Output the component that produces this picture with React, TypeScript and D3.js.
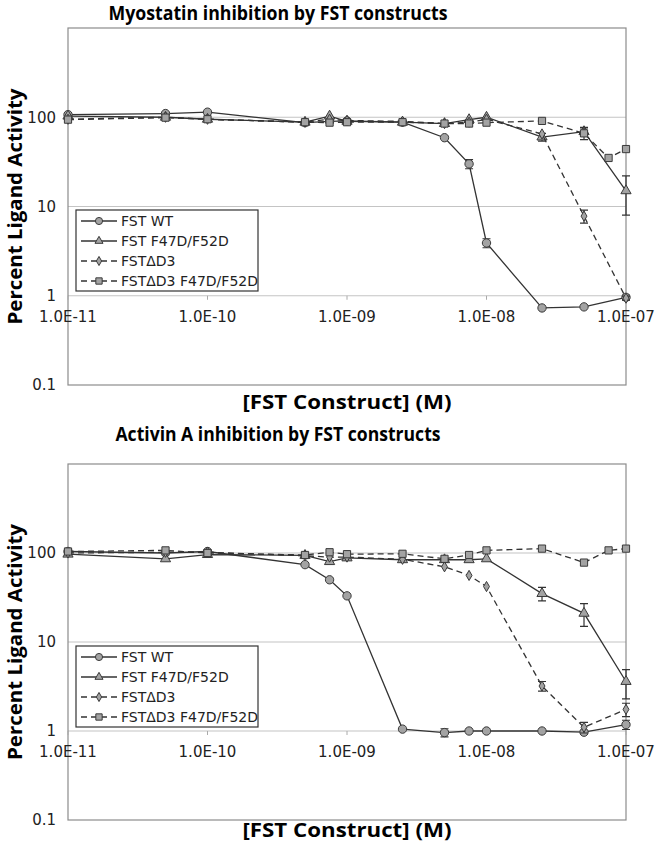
import React, { useRef, useEffect } from "react";
import * as d3 from "d3";

// concentrations (M) used on both plates
const concentrations = [
  1e-11, 5e-11, 1e-10, 5e-10, 7.5e-10, 1e-9, 2.5e-9, 5e-9, 7.5e-9, 1e-8,
  2.5e-8, 5e-8, 7.5e-8, 1e-7,
];
const xTicks = [1e-11, 1e-10, 1e-9, 1e-8, 1e-7];
const xTickLabels = ["1.0E-11", "1.0E-10", "1.0E-09", "1.0E-08", "1.0E-07"];
const yTicks = [0.1, 1, 10, 100];
const yTickLabels = ["0.1", "1", "10", "100"];
const gridValues = [1, 10, 100];

const seriesNames = ["FST WT", "FST F47D/F52D", "FST\u0394D3", "FST\u0394D3 F47D/F52D"];
const seriesShapes = ["circle", "triangle", "diamond", "square"];
const seriesDashed = [false, false, true, true];

// Myostatin panel
const myoWT = [107, 110, 114, 87, 90, 91, 88, 59, 30, 3.9, 0.73, 0.75, null, 0.96];
const myoWTErr = [0, 0, 0, 0, 0, 0, 0, 0, 3.5, 0.45, 0, 0, 0, 0.06];
const myoF47 = [103, 100, 95, 88, 103, 90, 88, 85, 94, 100, 60, 69, null, 15];
const myoF47Err = [0, 0, 0, 0, 0, 0, 0, 0, 0, 0, 6, 8, 0, 7];
const myoDD3 = [95, 100, 95, 88, 95, 92, 90, 85, 88, 95, 65, 7.8, null, 0.94];
const myoDD3Err = [0, 0, 0, 0, 0, 0, 0, 0, 0, 0, 0, 1.3, 0, 0.05];
const myoDD3F47 = [94, 99, 95, 88, 87, 88, 88, 85, 85, 87, 91, 66, 35, 44];
const myoDD3F47Err = [0, 0, 0, 0, 0, 0, 0, 0, 0, 0, 0, 10, 0, 0];

// Activin A panel
const actWT = [104, 100, 104, 74, 50, 33, 1.05, 0.96, 1.0, 1.0, 1.0, 0.97, null, 1.18];
const actWTErr = [0, 0, 0, 0, 0, 0, 0, 0.1, 0, 0, 0, 0.05, 0, 0.14];
const actF47 = [97, 86, 96, 94, 80, 88, 84, 84, 84, 86, 35, 21, null, 3.6];
const actF47Err = [0, 0, 0, 0, 0, 0, 0, 0, 0, 0, 6, 6, 0, 1.3];
const actDD3 = [100, 102, 102, 93, 90, 90, 85, 70, 56, 42, 3.2, 1.1, null, 1.75];
const actDD3Err = [0, 0, 0, 0, 0, 0, 0, 0, 0, 0, 0.4, 0.15, 0, 0.3];
const actDD3F47 = [104, 107, 100, 95, 102, 97, 98, 86, 95, 107, 112, 78, 107, 112];
const actDD3F47Err = [0, 0, 0, 0, 0, 0, 0, 0, 0, 0, 0, 0, 0, 0];

const panels = [
  {
    title: "Myostatin inhibition by FST constructs",
    titleWidth: 339,
    series: [myoWT, myoF47, myoDD3, myoDD3F47],
    errors: [myoWTErr, myoF47Err, myoDD3Err, myoDD3F47Err],
    top: 28,
    bottom: 385,
    titleY: 20,
    xLabelY: 409,
    legendY: 210,
  },
  {
    title: "Activin A inhibition by FST constructs",
    titleWidth: 325,
    series: [actWT, actF47, actDD3, actDD3F47],
    errors: [actWTErr, actF47Err, actDD3Err, actDD3F47Err],
    top: 464,
    bottom: 820,
    titleY: 441,
    xLabelY: 837,
    legendY: 646,
  },
];

const symbolFor = (shape, size) => {
  const type =
    shape === "circle"
      ? d3.symbolCircle
      : shape === "triangle"
      ? d3.symbolTriangle
      : shape === "diamond"
      ? d3.symbolDiamond
      : d3.symbolSquare;
  return d3.symbol().type(type).size(size)();
};

const markerSize = { circle: 55, triangle: 45, diamond: 30, square: 52 };
const legendMarkerSize = { circle: 40, triangle: 28, diamond: 24, square: 40 };

const App = () => {
  const svgRef = useRef(null);

  useEffect(() => {
    const width = 656;
    const height = 844;
    const left = 68;
    const right = 626;
    const tickFont = "'DejaVu Sans', Verdana, sans-serif";
    const boldFont = "'Open Sans', sans-serif";

    const svg = d3
      .select(svgRef.current)
      .attr("width", width)
      .attr("height", height)
      .html("");

    svg.append("rect").attr("width", width).attr("height", height).attr("fill", "#fff");

    const x = d3.scaleLog().domain([1e-11, 1e-7]).range([left, right]);

    panels.forEach((p) => {
      const y = d3.scaleLog().domain([0.1, 1000]).range([p.bottom, p.top]);
      const g = svg.append("g");

      // titles
      g.append("text")
        .attr("x", 278)
        .attr("y", p.titleY)
        .attr("text-anchor", "middle")
        .attr("font-family", boldFont)
        .attr("font-weight", 700)
        .attr("font-size", 19)
        .attr("textLength", p.titleWidth)
        .attr("lengthAdjust", "spacingAndGlyphs")
        .text(p.title);

      g.append("text")
        .attr("x", 347)
        .attr("y", p.xLabelY)
        .attr("text-anchor", "middle")
        .attr("font-family", boldFont)
        .attr("font-weight", 700)
        .attr("font-size", 19)
        .attr("textLength", 209)
        .attr("lengthAdjust", "spacingAndGlyphs")
        .text("[FST Construct] (M)");

      g.append("text")
        .attr("transform", `translate(22,${(p.top + p.bottom) / 2}) rotate(-90)`)
        .attr("text-anchor", "middle")
        .attr("font-family", boldFont)
        .attr("font-weight", 700)
        .attr("font-size", 20)
        .attr("textLength", 236)
        .attr("lengthAdjust", "spacingAndGlyphs")
        .text("Percent Ligand Activity");

      // gridlines
      gridValues.forEach((v) => {
        g.append("line")
          .attr("x1", left)
          .attr("x2", right)
          .attr("y1", y(v))
          .attr("y2", y(v))
          .attr("stroke", "#c4c4c4")
          .attr("stroke-width", 1.2);
      });

      // frame
      g.append("rect")
        .attr("x", left)
        .attr("y", p.top)
        .attr("width", right - left)
        .attr("height", p.bottom - p.top)
        .attr("fill", "none")
        .attr("stroke", "#8c8c8c")
        .attr("stroke-width", 1.2);

      // y tick labels
      yTicks.forEach((v, i) => {
        g.append("text")
          .attr("x", 56)
          .attr("y", y(v))
          .attr("dy", "0.35em")
          .attr("text-anchor", "end")
          .attr("font-family", tickFont)
          .attr("font-size", 15)
          .attr("fill", "#222")
          .text(yTickLabels[i]);
      });

      // x ticks on the y = 1 axis
      xTicks.forEach((v, i) => {
        g.append("line")
          .attr("x1", x(v))
          .attr("x2", x(v))
          .attr("y1", y(1))
          .attr("y2", y(1) + 4)
          .attr("stroke", "#aaa");
        g.append("text")
          .attr("x", x(v))
          .attr("y", y(1) + 21)
          .attr("dy", "0.35em")
          .attr("text-anchor", "middle")
          .attr("font-family", tickFont)
          .attr("font-size", 15)
          .attr("fill", "#222")
          .text(xTickLabels[i]);
      });

      // series
      p.series.forEach((vals, s) => {
        const pts = concentrations
          .map((c, i) => ({ c, v: vals[i], e: p.errors[s][i] }))
          .filter((d) => d.v != null);

        g.append("path")
          .datum(pts)
          .attr("fill", "none")
          .attr("stroke", "#333")
          .attr("stroke-width", 1.3)
          .attr("stroke-dasharray", seriesDashed[s] ? "6,4" : null)
          .attr(
            "d",
            d3
              .line()
              .x((d) => x(d.c))
              .y((d) => y(d.v))
          );

        pts
          .filter((d) => d.e > 0)
          .forEach((d) => {
            const y1 = y(d.v + d.e);
            const y2 = y(Math.max(d.v - d.e, 0.11));
            const cx = x(d.c);
            g.append("path")
              .attr("d", `M${cx},${y1}V${y2}M${cx - 4},${y1}H${cx + 4}M${cx - 4},${y2}H${cx + 4}`)
              .attr("stroke", "#333")
              .attr("stroke-width", 1.2)
              .attr("fill", "none");
          });

        g.selectAll(null)
          .data(pts)
          .join("path")
          .attr("transform", (d) => `translate(${x(d.c)},${y(d.v)})`)
          .attr("d", symbolFor(seriesShapes[s], markerSize[seriesShapes[s]]))
          .attr("fill", "#a3a3a3")
          .attr("stroke", "#3a3a3a")
          .attr("stroke-width", 1);
      });

      // legend
      const lg = g.append("g").attr("transform", `translate(76,${p.legendY})`);
      lg.append("rect")
        .attr("width", 182)
        .attr("height", 81)
        .attr("fill", "#fff")
        .attr("stroke", "#333")
        .attr("stroke-width", 1.2);
      seriesNames.forEach((name, s) => {
        const ly = 11 + s * 20;
        lg.append("line")
          .attr("x1", 5)
          .attr("x2", 41)
          .attr("y1", ly)
          .attr("y2", ly)
          .attr("stroke", "#333")
          .attr("stroke-width", 1.3)
          .attr("stroke-dasharray", seriesDashed[s] ? "6,4" : null);
        lg.append("path")
          .attr("transform", `translate(23,${ly})`)
          .attr("d", symbolFor(seriesShapes[s], legendMarkerSize[seriesShapes[s]]))
          .attr("fill", "#a3a3a3")
          .attr("stroke", "#3a3a3a");
        lg.append("text")
          .attr("x", 45)
          .attr("y", ly)
          .attr("dy", "0.35em")
          .attr("font-family", tickFont)
          .attr("font-size", 14)
          .attr("fill", "#222")
          .text(name);
      });
    });
  }, []);

  return (
    <div style={{ position: "absolute", left: 0, top: 0 }}>
      <svg ref={svgRef} style={{ display: "block" }} />
    </div>
  );
};

export default App;
